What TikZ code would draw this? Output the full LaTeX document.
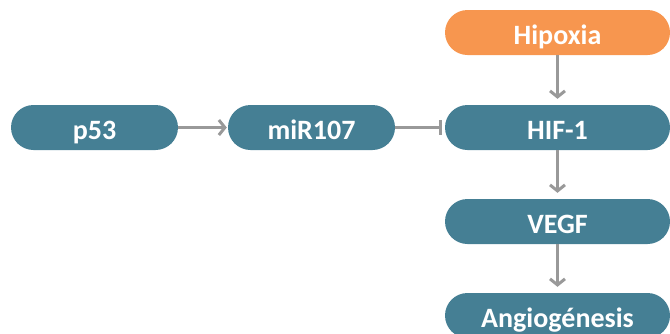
\documentclass[tikz,border=0pt]{standalone}
\usepackage{fontspec}
\setmainfont{Carlito}
\usetikzlibrary{arrows.meta}
\definecolor{tealbox}{HTML}{457F94}
\definecolor{orangebox}{HTML}{F7964F}
\definecolor{arrowgray}{HTML}{999999}
\begin{document}
\begin{tikzpicture}[x=1pt,y=-1pt,
	pill/.style={fill=tealbox,text=white,rounded corners=22.5pt,minimum height=45pt,inner sep=0pt,text height=23pt,text depth=0pt,font=\fontsize{28}{32}\selectfont\bfseries},
	small/.style={pill,minimum width=167pt},
	wide/.style={pill,minimum width=225pt},
	link/.style={draw=arrowgray,line width=3pt,-{Straight Barb[length=6pt,width=15pt]}},
	block/.style={draw=arrowgray,line width=3pt,-{Bar[width=15pt]}}]
	\useasboundingbox (0,0) rectangle (670,333);

	\node [small] (p53) at (94.5,127.5) {p53};
	\node [small] (mir) at (311.5,127.5) {miR107};
	\node [wide] (hif) at (557.5,127.5) {HIF-1};
	\node [wide,fill=orangebox] (hipoxia) at (557.5,32.5) {Hipoxia};
	\node [wide] (vegf) at (557.5,221.5) {VEGF};
	\node [wide] (angio) at (557.5,315.5) {Angiogénesis};

	\draw [link,shorten >=1pt] (p53) -- (mir);
	\draw [block,shorten >=3pt] (mir) -- (hif);
	\draw [link,shorten >=6pt] (hipoxia) -- (hif);
	\draw [link,shorten >=6pt] (hif) -- (vegf);
	\draw [link,shorten >=6pt] (vegf) -- (angio);
\end{tikzpicture}
\end{document}
